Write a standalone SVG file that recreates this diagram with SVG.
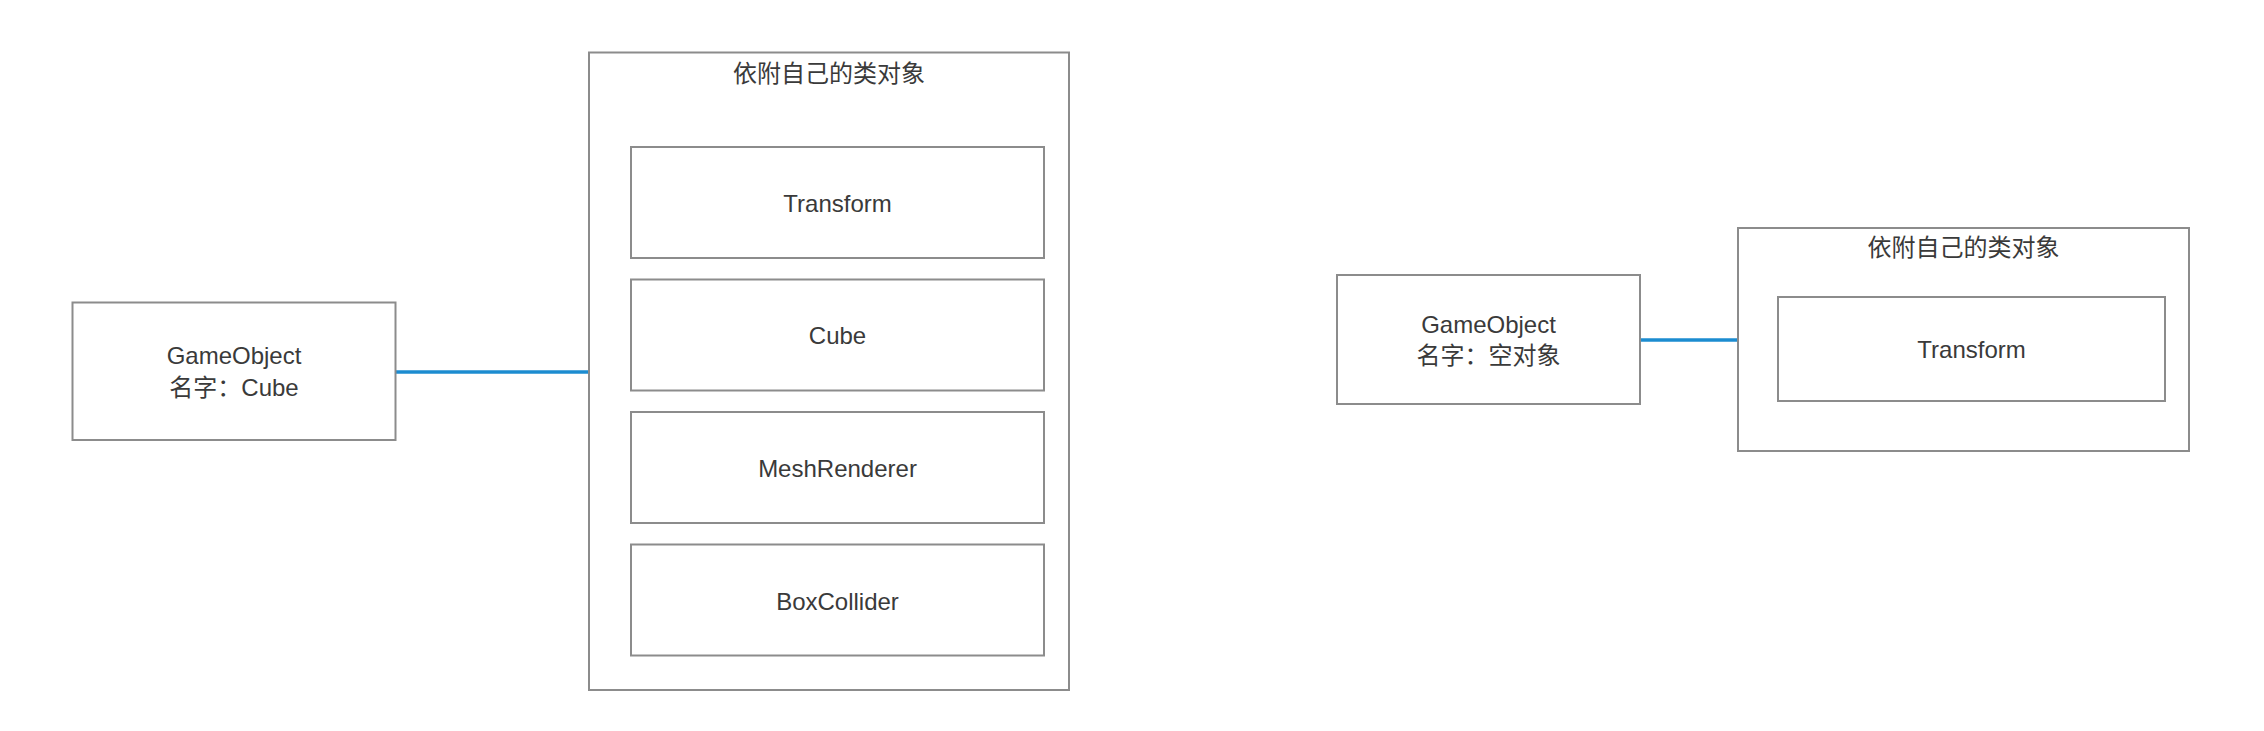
<svg xmlns="http://www.w3.org/2000/svg" width="2264" height="731" viewBox="0 0 2264 731">
<style>
.box{fill:#ffffff;stroke:#8c8c8c;stroke-width:2}
.t{font-family:"Liberation Sans","Noto Sans CJK SC",sans-serif;font-size:24px;fill:#3a3a3a;text-anchor:middle}
.cjk{font-family:"Noto Sans CJK SC","Liberation Sans",sans-serif;font-size:24px;fill:#3a3a3a;text-anchor:middle}
.conn{stroke:#1c8cd0;stroke-width:3.5;fill:none}
</style>
<rect width="2264" height="731" fill="#ffffff"/>
<g id="connectors">
<line class="conn" x1="396" y1="372" x2="589" y2="372"/>
<line class="conn" x1="1640" y1="340" x2="1738" y2="340"/>
</g>
<g id="gameobject-cube">
<rect class="box" x="72.5" y="302.5" width="323" height="137.5"/>
<text class="t" x="234" y="364">GameObject</text>
<text class="t" x="234" y="396">名字：Cube</text>
</g>
<g id="container-cube">
<rect class="box" x="589" y="52.5" width="480" height="637.5"/>
<text class="cjk" x="829" y="82">依附自己的类对象</text>
</g>
<g id="transform-cube">
<rect class="box" x="631" y="147" width="413" height="111"/>
<text class="t" x="837.5" y="211.5">Transform</text>
</g>
<g id="cube">
<rect class="box" x="631" y="279.5" width="413" height="111"/>
<text class="t" x="837.5" y="344">Cube</text>
</g>
<g id="meshrenderer">
<rect class="box" x="631" y="412" width="413" height="111"/>
<text class="t" x="837.5" y="477">MeshRenderer</text>
</g>
<g id="boxcollider">
<rect class="box" x="631" y="544.5" width="413" height="111"/>
<text class="t" x="837.5" y="609.5">BoxCollider</text>
</g>
<g id="gameobject-empty">
<rect class="box" x="1337" y="275" width="303" height="129"/>
<text class="t" x="1488.5" y="333">GameObject</text>
<text class="t" x="1488.5" y="364">名字：空对象</text>
</g>
<g id="container-empty">
<rect class="box" x="1738" y="228" width="451" height="223"/>
<text class="cjk" x="1963.5" y="256">依附自己的类对象</text>
</g>
<g id="transform-empty">
<rect class="box" x="1778" y="297" width="387" height="104"/>
<text class="t" x="1971.5" y="357.5">Transform</text>
</g>
</svg>
